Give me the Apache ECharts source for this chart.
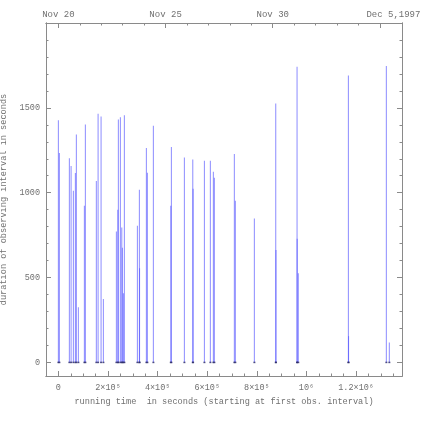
<!DOCTYPE html>
<html>
<head>
<meta charset="utf-8">
<script src="https://cdn.jsdelivr.net/npm/echarts@6/dist/echarts.min.js"></script>
<style>
  html, body { margin: 0; padding: 0; background: #fff; }
  #chart { width: 425px; height: 425px; }
</style>
</head>
<body>
<div id="chart"></div>
<script>
// start time of each observing interval (s since first interval)
const startTimes = [
    0, 4000, 44300, 51200, 60500, 68500, 72500, 80600, 104800, 108800,
    153000, 160000, 172000, 181400, 233800, 239400, 241800, 249900, 255400, 258000,
    262000, 266000, 318500, 326500, 327000, 354700, 358700, 382900, 453000, 455500,
    507900, 541600, 543000, 588600, 612600, 624700, 628700, 709300, 713300, 790000,
    876000, 877000, 962000, 962500, 967000, 1169000, 1169500, 1322000, 1334000
];
// duration of each interval (s)
const durations = [
    1427, 1234, 1203, 1158, 1012, 1116, 1343, 325, 923, 1402,
    1069, 1465, 1449, 374, 772, 900, 1431, 1445, 795, 675,
    407, 1457, 805, 1018, 555, 1264, 1118, 1394, 923, 1270,
    1207, 1195, 1024, 1189, 1189, 1124, 1088, 1228, 953, 848,
    1526, 663, 1742, 728, 525, 1691, 155, 1746, 118
];

const xMajorTicks = [0, 200000, 400000, 600000, 800000, 1000000, 1200000];
const xTickLabels = ['0', '2×10⁵', '4×10⁵', '6×10⁵', '8×10⁵', '10⁶', '1.2×10⁶'];
const xMinorTicks = [];
for (let v = -50000; v <= 1350000; v += 50000) xMinorTicks.push(v);

const DAY = 86400;
const dateMajorTicks = [0, 5 * DAY, 10 * DAY, 15 * DAY];
const dateLabels = ['Nov 20', 'Nov 25', 'Nov 30', 'Dec 5,1997'];
const dateMinorTicks = [];
for (let d = 0; d <= 15; d++) dateMinorTicks.push(d * DAY);

const yMajorTicks = [0, 500, 1000, 1500];
const yTickLabels = ['0', '500', '1000', '1500'];
const yMinorTicks = [];
for (let v = 0; v <= 1900; v += 100) yMinorTicks.push(v);

const X_MIN = -50000, X_MAX = 1385000;
const Y_MIN = -80, Y_MAX = 2000;

const axisColor = '#8a8a8a';
const textColor = '#707070';
const font = '"Liberation Mono", "DejaVu Sans Mono", monospace';

function xAxisDef(position, ticks, len, labels, margin, size) {
    return {
        type: 'value',
        position: position,
        min: X_MIN,
        max: X_MAX,
        axisLine: { show: true, onZero: false, lineStyle: { color: axisColor, width: 1 } },
        axisTick: { show: true, inside: true, length: len, customValues: ticks, lineStyle: { color: axisColor } },
        axisLabel: labels ? {
            show: true,
            customValues: ticks,
            margin: margin,
            color: textColor,
            fontFamily: font,
            fontSize: size,
            formatter: labels
        } : { show: false },
        splitLine: { show: false }
    };
}

function yAxisDef(position, ticks, len, labels) {
    return {
        type: 'value',
        position: position,
        min: Y_MIN,
        max: Y_MAX,
        axisLine: { show: true, onZero: false, lineStyle: { color: axisColor, width: 1 } },
        axisTick: { show: true, inside: true, length: len, customValues: ticks, lineStyle: { color: axisColor } },
        axisLabel: labels ? {
            show: true,
            customValues: ticks,
            margin: 6,
            color: textColor,
            fontFamily: font,
            fontSize: 8.5,
            formatter: labels
        } : { show: false },
        splitLine: { show: false }
    };
}

const xBottomMajor = xAxisDef('bottom', xMajorTicks, 5, (v) => xTickLabels[xMajorTicks.indexOf(v)] ?? '', 7, 8.5);
xBottomMajor.name = 'running time  in seconds (starting at first obs. interval)';
xBottomMajor.nameLocation = 'middle';
xBottomMajor.nameGap = 21;
xBottomMajor.nameTextStyle = { color: textColor, fontFamily: font, fontSize: 8.6 };

const xTopMajor = xAxisDef('top', dateMajorTicks, 5, (v) => {
    const i = dateMajorTicks.indexOf(v);
    if (i === dateLabels.length - 1) return '{sp|}' + dateLabels[i];
    return i >= 0 ? dateLabels[i] : '';
}, 4, 9);
xTopMajor.axisLabel.rich = { sp: { width: 27 } };

const yLeftMajor = yAxisDef('left', yMajorTicks, 5, (v) => yTickLabels[yMajorTicks.indexOf(v)] ?? '');
yLeftMajor.name = 'duration of observing interval in seconds';
yLeftMajor.nameLocation = 'middle';
yLeftMajor.nameGap = 28;
yLeftMajor.nameRotate = 90;
yLeftMajor.nameTextStyle = { color: textColor, fontFamily: font, fontSize: 8.6 };

const option = {
    backgroundColor: '#fff',
    animation: false,
    grid: { left: 46, right: 23, top: 23, bottom: 49, outerBoundsMode: 'none' },
    xAxis: [
        xAxisDef('bottom', xMinorTicks, 2.5, null),
        xBottomMajor,
        xAxisDef('top', dateMinorTicks, 2.5, null),
        xTopMajor
    ],
    yAxis: [
        yAxisDef('left', yMinorTicks, 2.5, null),
        yLeftMajor,
        yAxisDef('right', yMinorTicks, 2.5, null),
        yAxisDef('right', yMajorTicks, 5, null)
    ],
    series: [
        {
            type: 'custom',
            xAxisIndex: 0,
            yAxisIndex: 0,
            data: startTimes.map((t, i) => [t, durations[i]]),
            renderItem: function (params, api) {
                const p0 = api.coord([api.value(0), 0]);
                const p1 = api.coord([api.value(0), api.value(1)]);
                return {
                    type: 'line',
                    shape: { x1: p0[0], y1: p0[1], x2: p1[0], y2: p1[1] },
                    style: { stroke: 'rgba(80,80,255,0.6)', lineWidth: 1.1 }
                };
            },
            silent: true
        },
        {
            type: 'scatter',
            xAxisIndex: 0,
            yAxisIndex: 0,
            symbol: 'rect',
            symbolSize: [2, 1.5],
            itemStyle: { color: '#2a2a66' },
            data: startTimes.map((t) => [t, 0]),
            silent: true
        }
    ]
};

const chart = echarts.init(document.getElementById('chart'), null, { renderer: 'canvas' });
chart.setOption(option);
</script>
</body>
</html>
